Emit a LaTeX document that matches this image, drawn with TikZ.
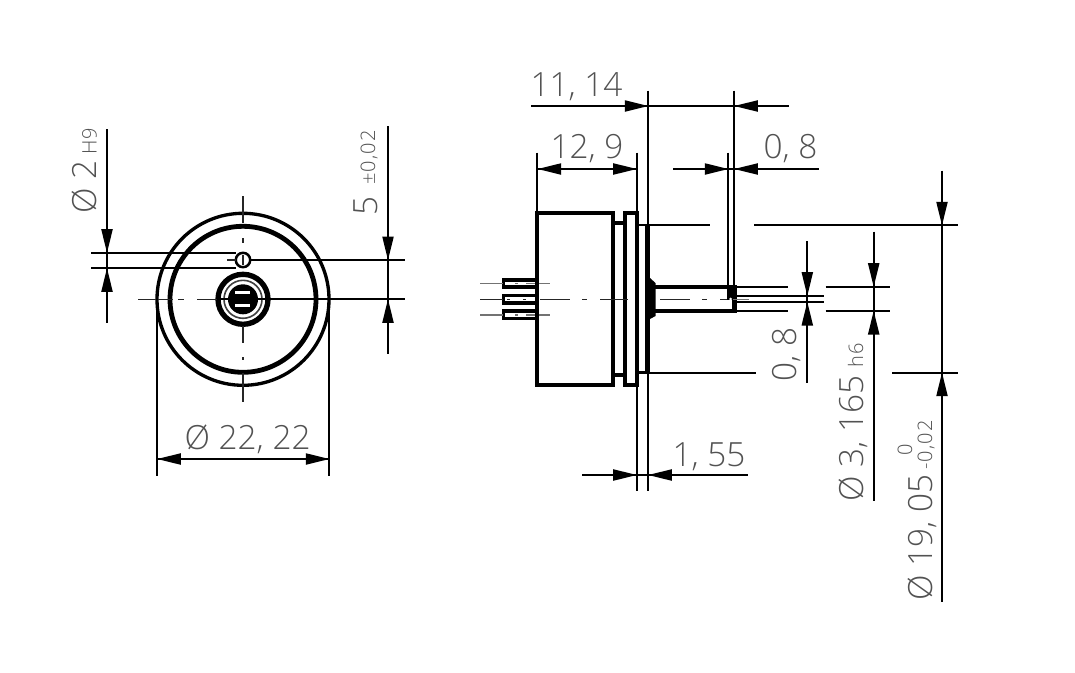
\documentclass[tikz,border=0pt]{standalone}
\usepackage{fontspec}
\newfontfamily\cadfont{Open Sans Light}
\newfontfamily\cadsmall[LetterSpace=5]{Open Sans Light}
\newcommand{\tipat}[2]{\fill [shift={(#1)}, rotate=#2] (23.5,-5.8) -- (0,0) -- (23.5,5.8) -- cycle ;}
\tikzset{every picture/.style={line width=0.75pt},
  dimline/.style={line width=1.3pt,black},
  centreline/.style={line width=0.85pt,black!85},
  thinline/.style={line width=0.8pt,black!55},
  wall/.style={line width=2.9pt,black},
  bigtext/.style={inner sep=0pt,text=black!68,font=\cadfont\fontsize{25}{25}\selectfont},
  smalltext/.style={inner sep=0pt,text=black!68,font=\cadsmall\fontsize{15}{15}\selectfont}}

\begin{document}
\begin{tikzpicture}[x=0.75pt,y=0.75pt,yscale=-1,xscale=1]
\useasboundingbox (0,0) rectangle (1075,672);

%Front view: circles
\draw [line width=2.5pt] (243,299.3) circle (86) ;
\draw [line width=3.6pt] (243,299.3) circle (73) ;
\draw [line width=4pt] (243,299.3) circle (25) ;
\draw [line width=1.2pt,black!75] (243,299.3) circle (19) ;
\fill (243,299.3) circle (15) ;
\fill [white] (235,290.5) rectangle (250,294) ;
\fill [white] (235,303.5) rectangle (250,307) ;
\draw [line width=1.9pt] (243,260) circle (7.2) ;

%Front view: centre lines
\draw [centreline] (243,196) -- (243,223) ;
\draw [centreline] (243,238) -- (243,243) ;
\draw [centreline] (243,326) -- (243,343) ;
\draw [centreline] (243,357) -- (243,360) ;
\draw [centreline] (243,373) -- (243,402) ;
\draw [centreline] (243,255) -- (243,265) ;
\draw [centreline] (138,299.3) -- (173,299.3) ;
\draw [centreline] (178,299.3) -- (184,299.3) ;
\draw [centreline] (197,299.3) -- (217,299.3) ;
\draw [centreline] (227,260) -- (236,260) ;

%Dimension: hole diameter
\draw [dimline] (107,129) -- (107,323) ;
\draw [dimline] (91,252.7) -- (236,252.7) ;
\draw [dimline] (91,268.3) -- (236,268.3) ;
\tipat{107,252.7}{-90}
\tipat{107,268.3}{90}

%Dimension: hole offset
\draw [dimline] (388,126) -- (388,354) ;
\draw [dimline] (250,260) -- (405,260) ;
\draw [dimline] (217,299.3) -- (405,299.3) ;
\tipat{388,260}{-90}
\tipat{388,299.3}{90}

%Dimension: outer diameter
\draw [dimline] (157.3,299.3) -- (157.3,475.7) ;
\draw [dimline] (329.3,299.3) -- (329.3,475.7) ;
\draw [dimline] (157.3,459) -- (329.3,459) ;
\tipat{157.3,459}{0}
\tipat{329.3,459}{180}

%Side view: pins
\draw [wall] (536,280) -- (503.5,280) -- (503.5,287) -- (536,287) ;
\draw [wall] (536,295.5) -- (503.5,295.5) -- (503.5,303) -- (536,303) ;
\draw [wall] (536,311) -- (503.5,311) -- (503.5,318.5) -- (536,318.5) ;
\draw [thinline] (480,283.7) -- (503,283.7) ;
\draw [thinline] (480,315) -- (503,315) ;
\draw [thinline] (515,283.7) -- (518,283.7) ;
\draw [thinline] (526,283.7) -- (550,283.7) ;
\draw [thinline] (515,315) -- (518,315) ;
\draw [thinline] (526,315) -- (550,315) ;

%Side view: body
\draw [wall] (536.7,212.7) rectangle (613.3,385) ;
\draw [wall] (613.3,222.7) -- (624.3,222.7) ;
\draw [wall] (613.3,375) -- (624.3,375) ;
\draw [wall] (624.8,212.7) rectangle (636.7,385) ;
\draw [line width=2.2pt] (636.7,225) -- (649,225) ;
\draw [line width=2.2pt] (636.7,372.7) -- (649,372.7) ;
\draw [line width=4pt] (647.3,224) -- (647.3,374) ;
\fill (648,278) -- (650,278) -- (655.5,283) -- (655.5,316) -- (650,319) -- (648,319) -- cycle ;

%Side view: shaft
\draw [wall] (655,286.7) -- (733,286.7) ;
\draw [wall] (655,311) -- (733,311) ;
\fill (727,285) rectangle (737,300) ;
\fill (732,300) rectangle (737,312.5) ;
\fill [white] (730.7,299) circle (1.5) ;

%Side view: centre line
\draw [centreline] (480,299.3) -- (503,299.3) ;
\draw [centreline] (507,299.3) -- (510,299.3) ;
\draw [centreline] (523,299.3) -- (526,299.3) ;
\draw [centreline] (540,299.3) -- (570,299.3) ;
\draw [centreline] (582,299.3) -- (587,299.3) ;
\draw [centreline] (600,299.3) -- (628,299.3) ;
\draw [centreline] (660,299.3) -- (690,299.3) ;
\draw [centreline] (702,299.3) -- (707,299.3) ;
\draw [centreline] (720,299.3) -- (727,299.3) ;
\draw [thinline] (733,299.3) -- (749,299.3) ;

%Extension lines on the right
\draw [dimline] (649,225.3) -- (710,225.3) ;
\draw [dimline] (754,225.3) -- (958,225.3) ;
\draw [dimline] (649,372.7) -- (755.7,372.7) ;
\draw [dimline] (892,372.7) -- (958,372.7) ;
\draw [dimline] (736,286.7) -- (788,286.7) ;
\draw [dimline] (736,311) -- (788,311) ;
\draw [dimline] (825.7,286.7) -- (890,286.7) ;
\draw [dimline] (825.7,311) -- (890,311) ;
\draw [dimline] (737,295.7) -- (823.7,295.7) ;
\draw [dimline] (737,302) -- (823.7,302) ;

%Dimension: top row
\draw [dimline] (531,106) -- (789.3,106) ;
\draw [dimline] (648.3,90.7) -- (648.3,491) ;
\draw [dimline] (734.3,90.7) -- (734.3,286) ;
\tipat{648.3,106}{180}
\tipat{734.3,106}{0}

%Dimension: second row
\draw [dimline] (537.7,169) -- (636.7,169) ;
\draw [dimline] (537,152.7) -- (537,212) ;
\draw [dimline] (636.7,152.7) -- (636.7,212) ;
\draw [dimline] (636.7,385) -- (636.7,491) ;
\tipat{537.7,169}{0}
\tipat{636.7,169}{180}
\draw [dimline] (673.3,169) -- (819.3,169) ;
\draw [dimline] (728.3,152.7) -- (728.3,287) ;
\tipat{728.3,169}{180}
\tipat{734.3,169}{0}

%Dimension: flange width
\draw [dimline] (582,475) -- (748,475) ;
\tipat{636.7,475}{180}
\tipat{648.3,475}{0}

%Dimension: verticals on the right
\draw [dimline] (807.3,241) -- (807.3,382.7) ;
\tipat{807.3,295.7}{-90}
\tipat{807.3,302}{90}
\draw [dimline] (873.7,231.7) -- (873.7,500.7) ;
\tipat{873.7,286.7}{-90}
\tipat{873.7,311}{90}
\draw [dimline] (942,170.7) -- (942,601.7) ;
\tipat{942,225.3}{-90}
\tipat{942,372.7}{90}

% Text Node
\node (lblouter) [bigtext,anchor=base west] at (184,449) {Ø 22, 22};
\node (lblhole) [bigtext,anchor=base west,rotate=90] at (96.7,214) {Ø 2};
\node (lblholetol) [smalltext,anchor=base west,rotate=90] at (96.7,155) {H9};
\node (lbloffset) [bigtext,anchor=base west,rotate=90] at (377,216) {5};
\node (lbloffsettol) [smalltext,anchor=base west,rotate=90] at (375,185) {±0,02};
\node (lbllength) [bigtext,anchor=base west] at (530,96) {11, 14};
\node (lblbody) [bigtext,anchor=base west] at (550,158) {12, 9};
\node (lblnut) [bigtext,anchor=base west] at (763,158) {0, 8};
\node (lblflange) [bigtext,anchor=base west] at (672,466) {1, 55};
\node (lblslot) [bigtext,anchor=base west,rotate=90] at (796.7,382) {0, 8};
\node (lblshaft) [bigtext,anchor=base west,rotate=90] at (863,502) {Ø 3, 165};
\node (lblshafttol) [smalltext,anchor=base west,rotate=90] at (863,368) {h6};
\node (lblcase) [bigtext,anchor=base west,rotate=90] at (932,601) {Ø 19, 05};
\node (lblcaseminus) [smalltext,anchor=base west,rotate=90] at (932,470) {-0,02};
\node (lblcasezero) [smalltext,anchor=base west,rotate=90] at (912,456) {0};

\end{tikzpicture}
\end{document}
